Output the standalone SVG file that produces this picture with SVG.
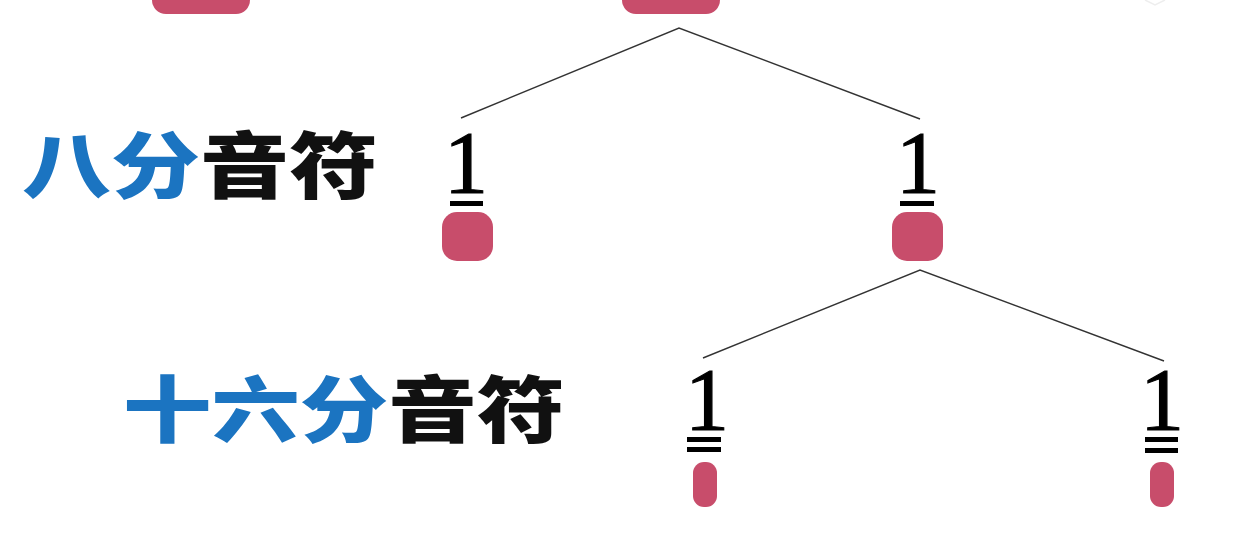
<svg xmlns="http://www.w3.org/2000/svg" width="1237" height="557" viewBox="0 0 1237 557">
<style>
.note{fill:#c84d6b}
.bar{fill:#000}
.one{font-family:"Liberation Serif","DejaVu Serif",serif;font-size:88px;fill:#000;stroke:#000;stroke-width:1.2;text-anchor:middle}
.lab{font-family:"Noto Sans CJK SC",sans-serif;font-weight:900;font-size:72px}
.blue{fill:#1b74c1}
.blk{fill:#111}
.conn{stroke:#333;stroke-width:1.4;fill:none}
</style>
<rect width="1237" height="557" fill="#fff"/>
<g id="top-left"><rect class="note" x="152" y="-30" width="98" height="44" rx="14"/></g>
<g id="top-mid"><rect class="note" x="622" y="-30" width="98" height="44" rx="14"/></g>
<g id="top-right"><path d="M1145 0 L1155 5 L1165 0" stroke="#eee" stroke-width="1.5" fill="none"/></g>
<g id="connectors">
<path class="conn" d="M461 118 L679 28 L920 119"/>
<path class="conn" d="M703 358 L920 270 L1164 361"/>
</g>
<g id="label-eighth">
<text class="lab" x="22" y="192" textLength="356" lengthAdjust="spacingAndGlyphs"><tspan class="blue">八分</tspan><tspan class="blk">音符</tspan></text>
</g>
<g id="label-sixteenth">
<text class="lab" x="123" y="436" textLength="442" lengthAdjust="spacingAndGlyphs"><tspan class="blue">十六分</tspan><tspan class="blk">音符</tspan></text>
</g>
<g id="eighth-1">
<text class="one" x="466" y="192">1</text>
<rect class="bar" x="450" y="201" width="33" height="5"/>
<rect class="note" x="442" y="212" width="51" height="49" rx="15"/>
</g>
<g id="eighth-2">
<text class="one" x="918" y="192">1</text>
<rect class="bar" x="900" y="201" width="34" height="5"/>
<rect class="note" x="892" y="212" width="51" height="49" rx="15"/>
</g>
<g id="sixteenth-1">
<text class="one" x="707" y="429">1</text>
<rect class="bar" x="687" y="437" width="34" height="5"/>
<rect class="bar" x="687" y="447" width="34" height="5"/>
<rect class="note" x="693" y="462" width="24" height="45" rx="11"/>
</g>
<g id="sixteenth-2">
<text class="one" x="1162" y="429">1</text>
<rect class="bar" x="1145" y="437" width="33" height="5"/>
<rect class="bar" x="1145" y="448" width="33" height="5"/>
<rect class="note" x="1150" y="462" width="24" height="45" rx="11"/>
</g>
</svg>
